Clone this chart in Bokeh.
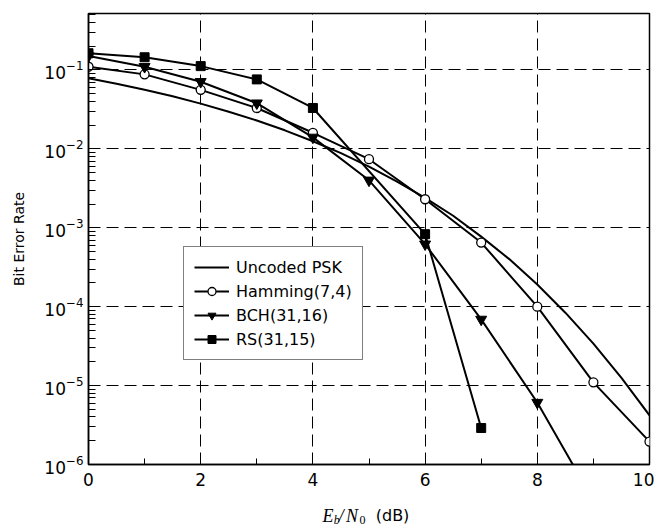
from bokeh.plotting import figure
from bokeh.layouts import column
from bokeh.models import FixedTicker, LogTicker
from bokeh.core.properties import value
from bokeh.embed import file_html
from bokeh.resources import INLINE

# ---- data ----
snr_uncoded = [0, 0.5, 1, 1.5, 2, 2.5, 3, 3.5, 4, 4.5, 5, 5.5, 6, 6.5, 7, 7.5, 8, 8.5, 9, 9.5, 10]
ber_uncoded = [0.0786, 0.0671, 0.0563, 0.0464, 0.0375, 0.0296, 0.0229, 0.0172, 0.0125, 0.00882,
               0.00595, 0.00384, 0.00239, 0.00142, 0.000773, 0.000401, 0.000191, 8.4e-5,
               3.4e-5, 1.25e-5, 4.2e-6]

snr_hamming = [0, 1, 2, 3, 4, 5, 6, 7, 8, 9, 10]
ber_hamming = [0.11, 0.088, 0.056, 0.033, 0.016, 0.0074, 0.0023, 0.00065, 1.0e-4, 1.1e-5, 1.95e-6]

snr_bch = [0, 1, 2, 3, 4, 5, 6, 7, 8, 9]
ber_bch = [0.15, 0.11, 0.071, 0.038, 0.014, 0.0040, 0.00062, 6.9e-5, 6.1e-6, 3.5e-7]

snr_rs = [0, 1, 2, 3, 4, 6, 7]
ber_rs = [0.163, 0.145, 0.112, 0.076, 0.033, 0.00083, 2.9e-6]

x_ticks = [0, 2, 4, 6, 8, 10]
x_minor = [1, 3, 5, 7, 9]

FONT = "DejaVu Sans"
W = 654

p = figure(width=W, height=500, output_backend="svg", toolbar_location=None,
           y_axis_type="log", x_range=(0, 10), y_range=(1e-6, 0.52),
           min_border_left=88, min_border_right=5, min_border_top=13, min_border_bottom=36)

p.background_fill_color = "white"
p.border_fill_color = "white"
p.outline_line_color = "black"
p.outline_line_width = 1.5

# grids
for g in (p.xgrid, p.ygrid):
    g.grid_line_color = "black"
    g.grid_line_dash = "12 6"
    g.grid_line_width = 1

# axes
p.xaxis.ticker = FixedTicker(ticks=x_ticks, minor_ticks=x_minor)
p.yaxis.ticker = LogTicker(num_minor_ticks=10)
for ax in (p.xaxis, p.yaxis):
    ax.axis_line_color = "black"
    ax.axis_line_width = 1.5
    ax.major_tick_in = 10
    ax.major_tick_out = 0
    ax.minor_tick_in = 7
    ax.minor_tick_out = 0
    ax.major_tick_line_color = "black"
    ax.minor_tick_line_color = "black"
    ax.major_label_text_font = FONT
    ax.major_label_text_font_size = "17px"
    ax.major_label_text_color = "black"
p.xaxis.minor_tick_in = 6
p.xaxis.major_label_standoff = 8
p.yaxis.major_label_standoff = 5

p.yaxis.axis_label = "Bit Error Rate"
p.yaxis.axis_label_text_font = FONT
p.yaxis.axis_label_text_font_size = "14px"
p.yaxis.axis_label_text_font_style = "normal"
p.yaxis.axis_label_text_color = "black"
p.yaxis.axis_label_standoff = 14

# series
LW = 2
p.line(snr_uncoded, ber_uncoded, line_color="black", line_width=LW, legend_label="Uncoded PSK")

p.line(snr_hamming, ber_hamming, line_color="black", line_width=LW, legend_label="Hamming(7,4)")
p.scatter(snr_hamming, ber_hamming, marker="circle", size=9, fill_color="white",
          line_color="black", line_width=1.3, legend_label="Hamming(7,4)")

p.line(snr_bch, ber_bch, line_color="black", line_width=LW, legend_label="BCH(31,16)")
p.scatter(snr_bch, ber_bch, marker="inverted_triangle", size=11, fill_color="black",
          line_color="black", legend_label="BCH(31,16)")

p.line(snr_rs, ber_rs, line_color="black", line_width=LW, legend_label="RS(31,15)")
p.scatter(snr_rs, ber_rs, marker="square", size=9, fill_color="black",
          line_color="black", legend_label="RS(31,15)")

lg = p.legend[0]
lg.location = (95, 104)
lg.border_line_color = "black"
lg.border_line_width = 1.2
lg.background_fill_color = "white"
lg.background_fill_alpha = 1
lg.label_text_font = FONT
lg.label_text_font_size = "16px"
lg.label_text_color = "black"
lg.glyph_width = 35
lg.glyph_height = 20
lg.label_height = 20
lg.label_standoff = 7
lg.spacing = 4
lg.padding = 10
lg.margin = 0

# x-axis label E_b/N_0 (dB) in a thin strip below, sharing the x range
q = figure(width=W, height=30, output_backend="svg", toolbar_location=None,
           x_range=p.x_range, y_range=(0, 30),
           min_border_left=88, min_border_right=5, min_border_top=0, min_border_bottom=0,
           x_axis_location=None, y_axis_location=None)
q.outline_line_color = None
q.xgrid.visible = False
q.ygrid.visible = False
q.background_fill_color = "white"
q.border_fill_color = "white"

serif_parts = dict(x=[4.17, 4.37, 4.46, 4.59], y=[15, 11, 15, 15], t=["E", "b", "/", "N"],
                   s=["18px", "12px", "18px", "18px"])
q.text(x="x", y="y", text="t", text_font_size="s", source=serif_parts,
       text_font=value("Liberation Serif"), text_font_style="italic",
       text_color="black", text_align="left", text_baseline="alphabetic")
q.text(x=[4.83], y=[11], text=["0"], text_font=value("Liberation Serif"),
       text_font_size="12px", text_color="black", text_align="left",
       text_baseline="alphabetic")
q.text(x=[5.12], y=[15], text=["(dB)"], text_font=value(FONT),
       text_font_size="16px", text_color="black", text_align="left",
       text_baseline="alphabetic")

open("out.html", "w").write(file_html(column(p, q, spacing=0), INLINE))
